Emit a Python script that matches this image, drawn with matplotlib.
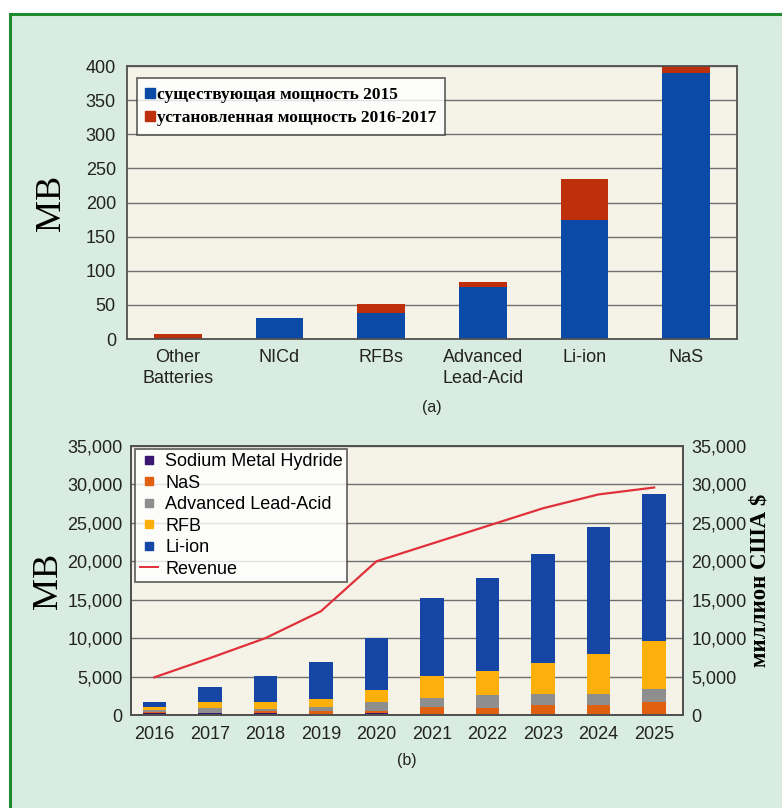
import matplotlib
matplotlib.use("Agg")
import matplotlib.pyplot as plt
from matplotlib.lines import Line2D
from matplotlib.patches import Rectangle
from matplotlib.ticker import FuncFormatter
import numpy as np

# ---- panel (a): installed storage capacity by technology, MW ----
tech = ["Other\nBatteries", "NICd", "RFBs", "Advanced\nLead-Acid", "Li-ion", "NaS"]
existing_2015 = [0, 31, 38, 76, 175, 390]
installed_2016_17 = [7, 0, 13, 8, 59, 10]

# ---- panel (b): forecast capacity by chemistry, MW, and revenue ----
years = ["2016", "2017", "2018", "2019", "2020", "2021", "2022", "2023", "2024", "2025"]
sodium_metal_hydride = [300, 260, 300, 50, 220, 0, 0, 0, 0, 0]
nas = [50, 50, 230, 480, 360, 1000, 960, 1260, 1260, 1700]
lead_acid = [310, 570, 220, 570, 1100, 1260, 1640, 1480, 1480, 1730]
rfb = [440, 760, 890, 980, 1620, 2790, 3100, 4090, 5220, 6200]
li_ion = [580, 1990, 3450, 4870, 6750, 10200, 12150, 14070, 16440, 19170]
revenue = [4900, 7400, 10000, 13500, 20000, 22300, 24600, 26900, 28700, 29600]

BLUE = "#0b4aa6"
RED = "#be2f0c"
C_SMH = "#3a1670"
C_NAS = "#e0600f"
C_LA = "#8e8e8e"
C_RFB = "#fdb00c"
C_LI = "#1546a6"
C_REV = "#e0303a"

BG = "#d9ece1"
AX_BG = "#f5f3e8"
GRID = "#707070"
SPINE = "#505050"

SANS = ["Liberation Sans", "DejaVu Sans"]
SERIF = ["Liberation Serif", "DejaVu Serif"]

plt.rcParams["font.family"] = SANS

W, H = 782, 808
fig = plt.figure(figsize=(W / 100, H / 100), dpi=100, facecolor="white")

# green framed panel behind everything
fig.patches.append(Rectangle((10 / W, -0.05), 1.1, 1 - 14 / H + 0.05,
                             transform=fig.transFigure, facecolor=BG,
                             edgecolor="#1f8a2e", linewidth=2.2, zorder=-10))

TICK_SIZE = 13


def style_axes(ax):
    ax.set_facecolor(AX_BG)
    for s in ax.spines.values():
        s.set_color(SPINE)
        s.set_linewidth(1.3)
    ax.yaxis.grid(True, color=GRID, linewidth=1.0)
    ax.set_axisbelow(True)
    ax.tick_params(axis="both", length=0, labelsize=TICK_SIZE, colors="#222222")


# ---------------- panel (a) ----------------
axa = fig.add_axes([127 / W, 1 - 339 / H, 610 / W, 273 / H])
style_axes(axa)
xa = np.arange(len(tech))
axa.bar(xa, existing_2015, width=0.47, color=BLUE, zorder=2)
axa.bar(xa, installed_2016_17, width=0.47, bottom=existing_2015, color=RED, zorder=2)
axa.set_xlim(-0.5, 5.5)
axa.set_ylim(0, 400)
axa.set_yticks(np.arange(0, 401, 50))
axa.set_xticks(xa)
axa.set_xticklabels(tech, linespacing=1.3)
axa.tick_params(axis="x", pad=7)
axa.tick_params(axis="y", pad=8)
axa.set_ylabel("МВ", family=SERIF, fontsize=26, labelpad=13)
axa.text(0.5, -0.252, "(a)", transform=axa.transAxes, ha="center", va="center",
         fontsize=11.5, color="#222222")

hand_a = [Line2D([], [], marker="s", linestyle="none", color=BLUE, markersize=6.5),
          Line2D([], [], marker="s", linestyle="none", color=RED, markersize=6.5)]
leg_a = axa.legend(hand_a, ["существующая мощность 2015", "установленная мощность 2016-2017"],
                   loc="upper left", bbox_to_anchor=(0.016, 0.955),
                   prop={"family": SERIF, "weight": "bold", "size": 12.5},
                   frameon=True, fancybox=False, edgecolor="#333333",
                   handlelength=0.5, handletextpad=0.15, borderpad=0.5,
                   labelspacing=0.4, borderaxespad=0)
leg_a.get_frame().set_linewidth(1.2)
leg_a.get_frame().set_facecolor("white")

# ---------------- panel (b) ----------------
axb = fig.add_axes([131 / W, 1 - 715 / H, 552 / W, 269 / H])
style_axes(axb)
xb = np.arange(len(years))
bw = 0.42
bottom = np.zeros(len(years))
for vals, col in [(sodium_metal_hydride, C_SMH), (nas, C_NAS), (lead_acid, C_LA),
                  (rfb, C_RFB), (li_ion, C_LI)]:
    axb.bar(xb, vals, width=bw, bottom=bottom, color=col, zorder=2)
    bottom = bottom + np.array(vals)
axb.set_xlim(-0.42, 9.52)
axb.set_ylim(0, 35000)
axb.set_yticks(np.arange(0, 35001, 5000))
axb.yaxis.set_major_formatter(FuncFormatter(lambda v, p: f"{int(v):,}"))
axb.set_xticks(xb)
axb.set_xticklabels(years)
axb.tick_params(axis="x", pad=8)
axb.tick_params(axis="y", pad=6)
axb.set_ylabel("МВ", family=SERIF, fontsize=26, labelpad=2)

axr = axb.twinx()
axr.set_ylim(0, 35000)
axr.set_yticks(np.arange(0, 35001, 5000))
axr.yaxis.set_major_formatter(FuncFormatter(lambda v, p: f"{int(v):,}"))
axr.tick_params(axis="y", length=0, labelsize=TICK_SIZE, colors="#222222", pad=6)
for s in axr.spines.values():
    s.set_color(SPINE)
    s.set_linewidth(1.3)
axr.plot(xb, revenue, color=C_REV, linewidth=1.6, zorder=3)
axr.set_ylabel("миллион США $", family=SERIF, weight="bold", fontsize=16.5,
               labelpad=2)
axb.text(0.5, -0.168, "(b)", transform=axb.transAxes, ha="center", va="center",
         fontsize=11.5, color="#222222")

hand_b = [Line2D([], [], marker="s", linestyle="none", color=C_SMH, markersize=6),
          Line2D([], [], marker="s", linestyle="none", color=C_NAS, markersize=6),
          Line2D([], [], marker="s", linestyle="none", color=C_LA, markersize=6),
          Line2D([], [], marker="s", linestyle="none", color=C_RFB, markersize=6),
          Line2D([], [], marker="s", linestyle="none", color=C_LI, markersize=6),
          Line2D([], [], color=C_REV, linewidth=1.4)]
leg_b = axr.legend(hand_b, ["Sodium Metal Hydride", "NaS", "Advanced Lead-Acid", "RFB",
                            "Li-ion", "Revenue"],
                   loc="upper left", bbox_to_anchor=(0.008, 0.99),
                   prop={"family": SANS, "size": 13},
                   frameon=True, fancybox=False, edgecolor="#333333",
                   handlelength=1.0, handletextpad=0.4, borderpad=0.25,
                   labelspacing=0.25, borderaxespad=0)
leg_b.get_frame().set_linewidth(1.2)
leg_b.get_frame().set_facecolor("white")

fig.savefig("out.png", dpi=100, facecolor=fig.get_facecolor())
